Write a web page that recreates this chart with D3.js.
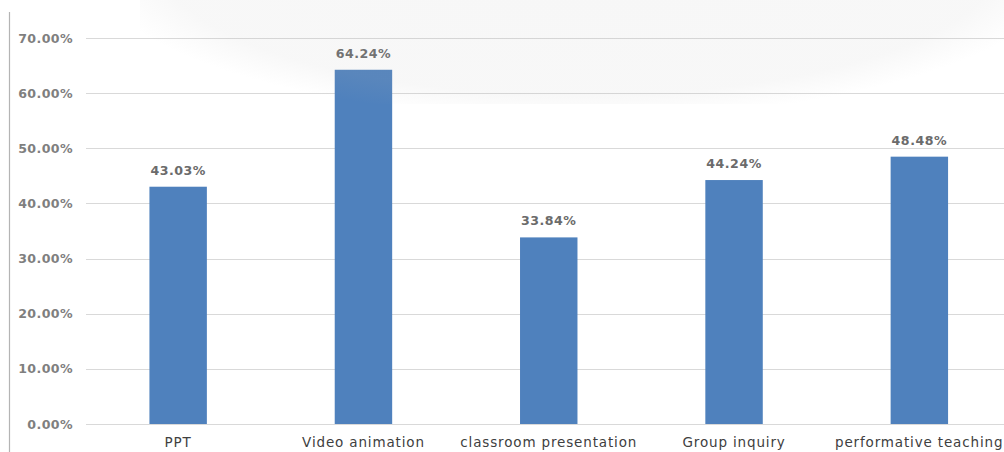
<!DOCTYPE html>
<html>
<head>
<meta charset="utf-8">
<script src="https://cdn.jsdelivr.net/npm/d3@7"></script>
<style>
  html, body { margin: 0; padding: 0; background: #ffffff; }
  svg { display: block; }
</style>
</head>
<body>
<svg id="chart" width="1004" height="452"></svg>
<script>
// Share of respondents choosing each teaching method
const categories = ["PPT", "Video animation", "classroom presentation", "Group inquiry", "performative teaching"];
const values = [0.4303, 0.6424, 0.3384, 0.4424, 0.4848];
const tickValues = [0, 0.1, 0.2, 0.3, 0.4, 0.5, 0.6, 0.7];

const svg = d3.select("#chart");
const W = 1004, H = 452;

const x = d3.scaleBand()
  .domain(categories)
  .range([85.5, 1012])
  .paddingInner(0.69)
  .paddingOuter(0.345);

const y = d3.scaleLinear()
  .domain([0, 0.7])
  .range([424, 38]);

const pct = d3.format(".2%");
const font = "'DejaVu Sans', Verdana, sans-serif";

// soft fade used for the emblem haze near the top
const defs = svg.append("defs");
const haze = defs.append("radialGradient")
  .attr("id", "haze")
  .attr("gradientUnits", "userSpaceOnUse")
  .attr("cx", 580).attr("cy", -40).attr("r", 430)
  .attr("gradientTransform", "translate(580,-40) scale(1.15,0.37) translate(-580,40)");
haze.append("stop").attr("offset", "0%").attr("stop-color", "#b5b5b5").attr("stop-opacity", 0.11);
haze.append("stop").attr("offset", "85%").attr("stop-color", "#b5b5b5").attr("stop-opacity", 0.1);
haze.append("stop").attr("offset", "100%").attr("stop-color", "#b5b5b5").attr("stop-opacity", 0);

// left frame line
svg.append("line")
  .attr("x1", 9.5).attr("x2", 9.5)
  .attr("y1", 12).attr("y2", H)
  .attr("stroke", "#b4b4b4").attr("stroke-width", 1.2);

// y tick labels
const yAxis = d3.axisLeft(y)
  .tickValues(tickValues)
  .tickFormat(pct)
  .tickSize(0)
  .tickPadding(0);

const yg = svg.append("g")
  .attr("transform", "translate(73,0)")
  .call(yAxis);
yg.select(".domain").remove();
yg.selectAll("text")
  .attr("font-family", font)
  .attr("font-size", "12.6px")
  .attr("font-weight", "bold")
  .attr("letter-spacing", "0.4px")
  .attr("fill", "#7f7f7f");

// horizontal gridlines
svg.append("g")
  .selectAll("line")
  .data(tickValues)
  .join("line")
  .attr("x1", 86).attr("x2", W)
  .attr("y1", d => Math.round(y(d)) + 0.5)
  .attr("y2", d => Math.round(y(d)) + 0.5)
  .attr("stroke", "#d9d9d9").attr("stroke-width", 1);

// bars
svg.append("g")
  .selectAll("rect")
  .data(values)
  .join("rect")
  .attr("x", (d, i) => x(categories[i]))
  .attr("y", d => y(d))
  .attr("width", x.bandwidth())
  .attr("height", d => y(0) - y(d))
  .attr("fill", "#4f81bd");

// value labels
svg.append("g")
  .selectAll("text")
  .data(values)
  .join("text")
  .attr("x", (d, i) => x(categories[i]) + x.bandwidth() / 2)
  .attr("y", d => y(d) - 12)
  .attr("text-anchor", "middle")
  .attr("font-family", font)
  .attr("font-size", "12.6px")
  .attr("font-weight", "bold")
  .attr("letter-spacing", "0.5px")
  .attr("fill", "#6b6b6b")
  .text(d => pct(d));

// category axis
const xAxis = d3.axisBottom(x).tickSize(0).tickPadding(0);
const xg = svg.append("g")
  .attr("transform", "translate(0,437)")
  .call(xAxis);
xg.select(".domain").remove();
xg.selectAll("text")
  .attr("font-family", font)
  .attr("font-size", "13.5px")
  .attr("letter-spacing", "0.85px")
  .attr("fill", "#404040");
// keep the last label inside the right edge
xg.selectAll(".tick:last-of-type text")
  .attr("text-anchor", "end")
  .attr("dx", 84);

// faint emblem haze over the upper part of the plot
svg.append("rect")
  .attr("x", 140).attr("y", 0)
  .attr("width", W - 140).attr("height", 104)
  .attr("fill", "url(#haze)");
</script>
</body>
</html>
